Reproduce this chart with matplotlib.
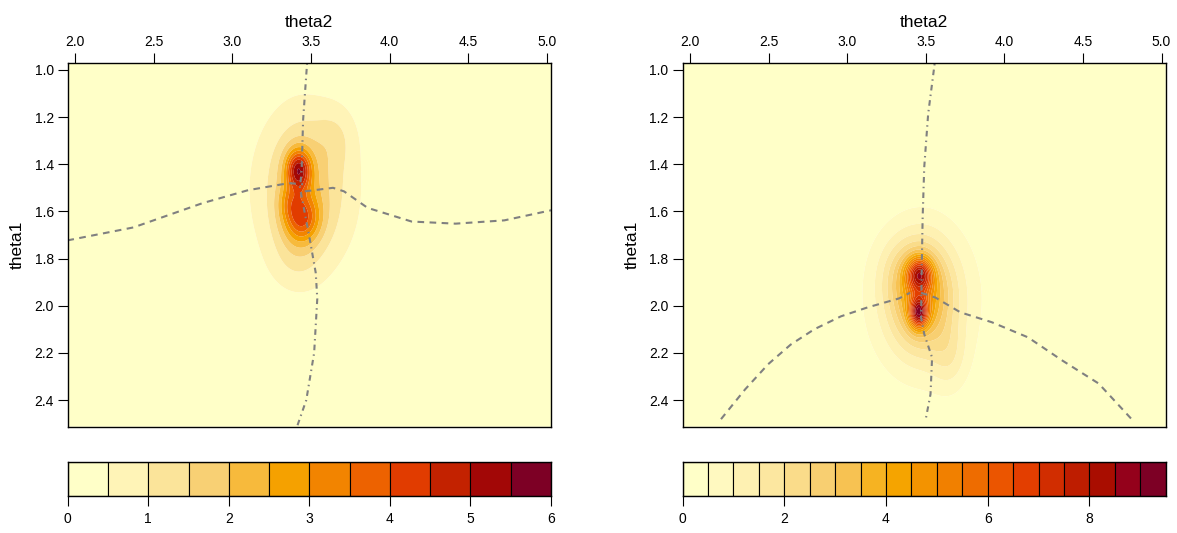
import numpy as np
import matplotlib
matplotlib.use("Agg")
import matplotlib.pyplot as plt

plt.rcParams['font.family'] = ['Liberation Sans', 'DejaVu Sans']

# ---------------- data ----------------
# density components: centre theta2, centre theta1, sd theta2, sd theta1, peak height
left_c2  = [3.42, 3.44, 3.36, 3.43, 3.47, 3.45, 3.66, 3.40]
left_c1  = [1.425, 1.63, 1.56, 1.52, 1.50, 1.52, 1.28, 1.80]
left_s2  = [0.055, 0.08, 0.05, 0.10, 0.20, 0.30, 0.09, 0.11]
left_s1  = [0.06, 0.07, 0.05, 0.18, 0.22, 0.33, 0.09, 0.09]
left_amp = [3.5, 2.4, 0.8, 0.5, 1.2, 0.5, 0.45, 0.35]

right_c2  = [3.46, 3.455, 3.47, 3.48, 3.48, 3.65, 3.33]
right_c1  = [1.866, 2.03, 1.95, 1.97, 1.98, 2.22, 1.85]
right_s2  = [0.055, 0.04, 0.12, 0.20, 0.30, 0.08, 0.10]
right_s1  = [0.05, 0.045, 0.14, 0.20, 0.28, 0.10, 0.10]
right_amp = [4.3, 4.9, 2.8, 1.5, 0.5, 0.8, 0.5]

# dashed curves (theta2, theta1)
left_dash_a_t2 = [1.95, 2.37, 2.81, 3.10, 3.36, 3.45]
left_dash_a_t1 = [1.723, 1.668, 1.565, 1.51, 1.48, 1.485]
left_dash_b_t2 = [3.46, 3.64, 3.71, 3.86, 4.14, 4.42, 4.73, 5.03]
left_dash_b_t1 = [1.515, 1.50, 1.515, 1.585, 1.643, 1.652, 1.638, 1.595]
# dash-dot curve
left_dd_t2 = [3.475, 3.45, 3.44, 3.43, 3.45, 3.49, 3.53, 3.54, 3.52, 3.47, 3.41]
left_dd_t1 = [0.972, 1.21, 1.43, 1.50, 1.57, 1.71, 1.86, 1.97, 2.20, 2.40, 2.515]

right_dash_a_t2 = [2.197, 2.35, 2.497, 2.64, 2.79, 2.96, 3.13, 3.33, 3.40]
right_dash_a_t1 = [2.481, 2.355, 2.248, 2.165, 2.10, 2.045, 2.007, 1.969, 1.945]
right_dash_b_t2 = [3.47, 3.56, 3.72, 3.92, 4.15, 4.37, 4.60, 4.815]
right_dash_b_t1 = [1.945, 1.965, 2.028, 2.07, 2.134, 2.233, 2.33, 2.485]
right_dd_t2 = [3.556, 3.515, 3.49, 3.48, 3.474, 3.47, 3.49, 3.54, 3.53, 3.50]
right_dd_t1 = [0.975, 1.187, 1.413, 1.625, 1.837, 2.05, 2.12, 2.22, 2.375, 2.48]

left_levels = np.arange(0, 6.01, 0.5)
right_levels = np.arange(0, 9.51, 0.5)
left_cbar_ticks = [0, 1, 2, 3, 4, 5, 6]
right_cbar_ticks = [0, 2, 4, 6, 8]
x_ticks = [2.0, 2.5, 3.0, 3.5, 4.0, 4.5, 5.0]
y_ticks = [1.0, 1.2, 1.4, 1.6, 1.8, 2.0, 2.2, 2.4]

XLIM = (1.952, 5.027)
YLIM = (2.513, 0.972)


# ---------------- HCL "YlOrRd" palette ----------------
def hcl_to_rgb(L, C, H):
    Xn, Yn, Zn = 95.047, 100.0, 108.883
    h = np.deg2rad(H)
    U = C * np.cos(h)
    V = C * np.sin(h)
    Y = Yn * (((L + 16) / 116) ** 3 if L > 8 else L / 903.3)
    t = Xn + 15 * Yn + 3 * Zn
    un = 4 * Xn / t
    vn = 9 * Yn / t
    u = U / (13 * L) + un
    v = V / (13 * L) + vn
    X = 9.0 * Y * u / (4 * v)
    Z = -X / 3 - 5 * Y + 3 * Y / v
    X, Y, Z = X / 100, Y / 100, Z / 100
    r = 3.240479 * X - 1.537150 * Y - 0.498535 * Z
    g = -0.969256 * X + 1.875992 * Y + 0.041556 * Z
    b = 0.055648 * X - 0.204043 * Y + 1.057311 * Z

    def gam(c):
        c = c * 12.92 if c <= 0.0031308 else 1.055 * c ** (1 / 2.4) - 0.055
        return min(max(c, 0), 1)
    return (gam(r), gam(g), gam(b))


def ylorrd(n):
    """light -> dark"""
    h1, h2, c1, c2, l1, l2, p1, p2, cmax = 5, 85, 75, 40, 25, 99, 1.6, 1.3, 180
    cols = []
    for i in np.linspace(0, 1, n):
        L = l2 - (l2 - l1) * i ** p2
        H = h2 - (h2 - h1) * i
        j = 1.0 / (1 + abs(cmax - c1) / abs(cmax - c2))
        ip = i ** p1
        if ip <= j:
            C = c2 - (c2 - cmax) * ip / j
        else:
            C = cmax - (cmax - c1) * (ip - j) / (1 - j)
        cols.append(hcl_to_rgb(L, C, H))
    return cols


def density(c2, c1, s2, s1, amp, T2, T1):
    Z = np.zeros_like(T2)
    for a, b, sa, sb, h in zip(c2, c1, s2, s1, amp):
        Z += h * np.exp(-0.5 * (((T2 - a) / sa) ** 2 + ((T1 - b) / sb) ** 2))
    return Z


t2 = np.linspace(XLIM[0], XLIM[1], 400)
t1 = np.linspace(YLIM[1], YLIM[0], 400)
T2, T1 = np.meshgrid(t2, t1)

W, H = 1177, 533
fig = plt.figure(figsize=(W / 100, H / 100), dpi=100)

panels = [
    dict(left=67.7, comps=(left_c2, left_c1, left_s2, left_s1, left_amp), levels=left_levels,
         cticks=left_cbar_ticks,
         dashes=[(left_dash_a_t2, left_dash_a_t1), (left_dash_b_t2, left_dash_b_t1)],
         dd=(left_dd_t2, left_dd_t1)),
    dict(left=682.5, comps=(right_c2, right_c1, right_s2, right_s1, right_amp), levels=right_levels,
         cticks=right_cbar_ticks,
         dashes=[(right_dash_a_t2, right_dash_a_t1), (right_dash_b_t2, right_dash_b_t1)],
         dd=(right_dd_t2, right_dd_t1)),
]

pw = 551 - 67.7
top, bottom = 63.3, 426.7
cb_top, cb_bot = 461.5, 495.5

for p in panels:
    ax = fig.add_axes([p['left'] / W, 1 - bottom / H, pw / W, (bottom - top) / H])
    levels = p['levels']
    cols = ylorrd(len(levels) - 1)
    Z = density(*p['comps'], T2, T1)
    Z = np.clip(Z, 1e-6, levels[-1] - 1e-6)
    ax.contourf(T2, T1, Z, levels=levels, colors=cols, antialiased=True)
    for xs, ys in p['dashes']:
        ax.plot(xs, ys, color='#808080', lw=1.5, linestyle=(0, (3.2, 2.6)))
    ax.plot(p['dd'][0], p['dd'][1], color='#808080', lw=1.5, linestyle=(0, (0.7, 2, 2.7, 2)))
    ax.set_xlim(*XLIM)
    ax.set_ylim(*YLIM)
    ax.xaxis.tick_top()
    ax.xaxis.set_label_position('top')
    ax.set_xticks(x_ticks)
    ax.set_xticklabels([f"{v:.1f}" for v in x_ticks])
    ax.set_yticks(y_ticks)
    ax.set_yticklabels([f"{v:.1f}" for v in y_ticks])
    ax.tick_params(axis='both', direction='out', length=7, width=0.8, labelsize=10, pad=3,
                   colors='black')
    ax.set_xlabel('theta2', fontsize=12.5, labelpad=6)
    ax.set_ylabel('theta1', fontsize=12.5, labelpad=7)
    for s in ax.spines.values():
        s.set_linewidth(1.0)

    # colour key
    cax = fig.add_axes([p['left'] / W, 1 - cb_bot / H, pw / W, (cb_bot - cb_top) / H])
    for k in range(len(levels) - 1):
        cax.bar(levels[k], 1, width=levels[k + 1] - levels[k], bottom=0, align='edge',
                color=cols[k], edgecolor='black', linewidth=0.8)
    cax.set_xlim(levels[0], levels[-1])
    cax.set_ylim(0, 1)
    cax.set_yticks([])
    cax.set_xticks(p['cticks'])
    cax.set_xticklabels([str(v) for v in p['cticks']])
    cax.tick_params(axis='x', direction='out', length=7, width=0.8, labelsize=10, pad=5)
    for s in cax.spines.values():
        s.set_linewidth(1.0)

fig.savefig('out.png', dpi=100)
